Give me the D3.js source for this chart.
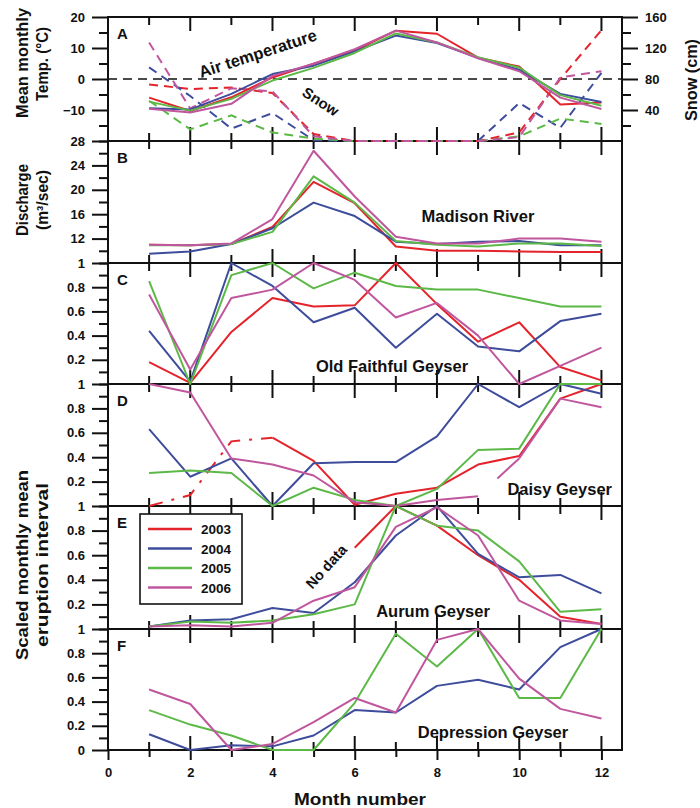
<!DOCTYPE html>
<html><head><meta charset="utf-8">
<script src="https://cdn.jsdelivr.net/npm/d3@7"></script>
<style>
body{margin:0;background:#fff}
svg{display:block}
text{font-family:"Liberation Sans",Arial,sans-serif;font-weight:bold;fill:#111}
</style>
</head><body>
<svg id="c" width="700" height="808"></svg>
<script>
// ---------- DATA ----------
const months = [1,2,3,4,5,6,7,8,9,10,11,12];
const years = ["2003","2004","2005","2006"];
const monthTickLabels = [0,2,4,6,8,10,12];

// Panel A: mean monthly air temperature (°C)
const temp2003 = [-6.0,-10.3,-5.9,0.5,4.9,9.2,15.6,14.6,6.9,4.0,-8.2,-7.6];
const temp2004 = [-9.4,-9.8,-4.8,1.6,4.3,8.9,14.0,11.6,6.8,3.0,-4.8,-7.4];
const temp2005 = [-7.3,-10.2,-6.4,-0.5,3.6,8.4,14.7,11.8,7.0,3.7,-5.2,-8.6];
const temp2006 = [-9.6,-10.8,-8.0,1.0,4.9,9.6,15.6,11.8,6.7,2.5,-6.0,-9.7];
// Panel A: snow (cm)
const snow2003 = [73,67,69,62,9,0,0,0,0,11,80,143];
const snow2004 = [95,58,16,36,1,0,0,0,0,49,17,88];
const snow2005 = [52,15,33,11,3,0,0,0,0,6,29,22];
const snow2006 = [127,42,68,64,6,0,0,0,0,5,82,90];
// Panel B: Madison River discharge (m3/sec)
const dis2003 = [11.0,10.9,11.1,13.9,21.3,17.8,10.7,10.0,10.0,9.9,9.8,9.8];
const dis2004 = [9.5,9.9,11.1,13.7,17.9,15.7,11.5,11.1,11.5,11.6,10.9,10.9];
const dis2005 = [10.9,10.9,11.1,13.1,22.2,17.9,11.6,11.0,10.7,11.2,11.2,10.8];
const dis2006 = [11.0,10.9,11.2,15.2,26.4,18.9,12.3,11.2,11.2,12.0,12.0,11.5];
// Panel C: Old Faithful
const of2003 = [0.18,0.01,0.43,0.71,0.64,0.65,1.0,0.66,0.35,0.51,0.14,0.03];
const of2004 = [0.44,0.02,1.0,0.81,0.51,0.63,0.30,0.58,0.31,0.27,0.52,0.58];
const of2005 = [0.85,0.0,0.90,1.0,0.79,0.92,0.81,0.78,0.78,0.71,0.64,0.64];
const of2006 = [0.74,0.12,0.71,0.78,1.0,0.86,0.55,0.67,0.40,0.0,0.15,0.30];
// Panel D: Daisy
const daisy2003 = [0.0,0.09,0.53,0.56,0.37,0.01,0.10,0.15,0.34,0.41,0.88,1.0];
const daisy2004 = [0.63,0.24,0.39,0.0,0.35,0.36,0.36,0.57,1.0,0.81,1.0,0.92];
const daisy2005 = [0.27,0.29,0.27,0.0,0.15,0.05,0.0,0.14,0.46,0.47,1.0,1.0];
const daisy2006 = [1.0,0.93,0.39,0.34,0.25,0.03,0.0,0.05,0.08,0.39,0.88,0.81];
// Panel E: Aurum
const aurum2003 = [null,null,null,null,null,0.66,1.0,0.84,0.60,0.40,0.10,0.04];
const aurum2004 = [0.02,0.07,0.08,0.17,0.13,0.38,0.76,1.0,0.61,0.42,0.44,0.29];
const aurum2005 = [0.02,0.06,0.05,0.07,0.12,0.20,1.0,0.84,0.80,0.55,0.14,0.16];
const aurum2006 = [0.02,0.03,0.02,0.05,0.23,0.34,0.83,0.99,0.76,0.23,0.07,0.04];
// Panel F: Depression
const dep2003 = [null,null,null,null,null,null,null,null,null,null,null,null];
const dep2004 = [0.13,0.0,0.04,0.03,0.12,0.33,0.31,0.53,0.58,0.50,0.85,1.0];
const dep2005 = [0.33,0.21,0.12,0.0,0.0,0.39,0.96,0.69,1.0,0.43,0.43,1.0];
const dep2006 = [0.50,0.38,0.0,0.05,0.23,0.43,0.31,0.91,1.0,0.59,0.34,0.26];

// tick labels
const tempTicks = [20,10,0,-10];
const snowTicks = [160,120,80,40];
const disTicks = [28,24,20,16,12];
const scaledTicks = [1,0.8,0.6,0.4,0.2];
const scaledTicksLast = [1,0.8,0.6,0.4,0.2,0];

// ---------- LAYOUT ----------
const svg = d3.select("#c");
const colors = {"2003":"#e4232b","2004":"#3e4c9c","2005":"#5cb947","2006":"#c0579e"};
const x = d3.scaleLinear().domain([0,12.5]).range([108,622]);
const bounds = [17,141,263,384,506,629,750];
const FONT = "Liberation Sans, Arial, sans-serif";

const panels = [
  {letter:"A", domain:[-20,20], major:tempTicks, minorStep:5, series:[temp2003,temp2004,temp2005,temp2006], fmt:d3.format("d")},
  {letter:"B", domain:[8,28], major:disTicks, minorStep:2, series:[dis2003,dis2004,dis2005,dis2006], fmt:d3.format("d")},
  {letter:"C", domain:[0,1], major:scaledTicks, minorStep:0.1, series:[of2003,of2004,of2005,of2006], fmt:d3.format("")},
  {letter:"D", domain:[0,1], major:scaledTicks, minorStep:0.1, series:[daisy2003,daisy2004,daisy2005,daisy2006], fmt:d3.format("")},
  {letter:"E", domain:[0,1], major:scaledTicks, minorStep:0.1, series:[aurum2003,aurum2004,aurum2005,aurum2006], fmt:d3.format("")},
  {letter:"F", domain:[0,1], major:scaledTicksLast, minorStep:0.1, series:[dep2003,dep2004,dep2005,dep2006], fmt:d3.format("")}
];

const gFrame = svg.append("g");
const gLines = svg.append("g");

function styleAxis(g){
  g.select(".domain").remove();
  g.selectAll("line").attr("stroke","#111").attr("stroke-width",2);
  g.selectAll("text").attr("font-size",13).attr("font-family",FONT).attr("font-weight","bold").attr("fill","#111");
}

panels.forEach((p,pi)=>{
  const top = bounds[pi], bot = bounds[pi+1];
  const y = d3.scaleLinear().domain(p.domain).range([bot, top]);
  p.y = y;
  const minor = d3.range(p.domain[0], p.domain[1]+1e-9, p.minorStep).map(v=>+v.toFixed(3))
     .filter(v=>!p.major.includes(v));
  styleAxis(gFrame.append("g").attr("transform","translate(108,0)")
    .call(d3.axisLeft(y).tickValues(minor).tickSize(9).tickFormat("")));
  styleAxis(gFrame.append("g").attr("transform","translate(108,0)")
    .call(d3.axisLeft(y).tickValues(p.major).tickSize(16).tickPadding(7).tickFormat(p.fmt)));
  months.forEach(m=>{
    const len = m%2===0 ? 14 : 8;
    gFrame.append("line").attr("x1",x(m)).attr("x2",x(m)).attr("y1",top).attr("y2",top+len).attr("stroke","#111").attr("stroke-width",2);
    gFrame.append("line").attr("x1",x(m)).attr("x2",x(m)).attr("y1",bot).attr("y2",bot-len).attr("stroke","#111").attr("stroke-width",2);
  });
  gFrame.append("text").attr("x",117).attr("y",top+22).attr("font-size",15).text(p.letter);
});

// frame
gFrame.append("rect").attr("x",x(0)).attr("y",bounds[0]).attr("width",x(12.5)-x(0)).attr("height",bounds[6]-bounds[0])
  .attr("fill","none").attr("stroke","#111").attr("stroke-width",2);
bounds.slice(1,6).forEach(b=>{
  gFrame.append("line").attr("x1",x(0)).attr("x2",x(12.5)).attr("y1",b).attr("y2",b).attr("stroke","#111").attr("stroke-width",2);
});

// right snow axis in panel A
const ySnow = d3.scaleLinear().domain([0,160]).range([bounds[1], bounds[0]]);
styleAxis(gFrame.append("g").attr("transform",`translate(${x(12.5)},0)`)
  .call(d3.axisRight(ySnow).tickValues([140,100,60,20]).tickSize(9).tickFormat("")));
styleAxis(gFrame.append("g").attr("transform",`translate(${x(12.5)},0)`)
  .call(d3.axisRight(ySnow).tickValues(snowTicks).tickSize(16).tickPadding(7)));

// bottom x axis
styleAxis(gFrame.append("g").attr("transform",`translate(0,${bounds[6]})`)
  .call(d3.axisBottom(x).tickValues(months.filter(m=>m%2===1)).tickSize(7).tickFormat("")));
styleAxis(gFrame.append("g").attr("transform",`translate(0,${bounds[6]})`)
  .call(d3.axisBottom(x).tickValues(monthTickLabels).tickSize(10).tickPadding(8).tickFormat(d3.format("d"))));

// zero line in A
const yT = panels[0].y;
gLines.append("line").attr("x1",x(0)).attr("x2",x(12.5)).attr("y1",yT(0)).attr("y2",yT(0))
  .attr("stroke","#111").attr("stroke-width",1.4).attr("stroke-dasharray","9,6");

// snow dashed lines
[snow2003,snow2004,snow2005,snow2006].forEach((s,i)=>{
  const line = d3.line().x((d,j)=>x(months[j])).y(d=>ySnow(d));
  gLines.append("path").attr("d",line(s)).attr("fill","none").attr("stroke",colors[years[i]])
    .attr("stroke-width",2).attr("stroke-dasharray","9,6");
});

// solid series lines
panels.forEach((p,pi)=>{
  p.series.forEach((s,i)=>{
    const col = colors[years[i]];
    let defined = (d,j)=>d!=null;
    if (p.letter==="D" && i===0) defined = (d,j)=>d!=null && j>=3;
    if (p.letter==="D" && i===3) defined = (d,j)=>d!=null && j!==8;
    const line = d3.line().defined(defined).x((d,j)=>x(months[j])).y(d=>p.y(d));
    gLines.append("path").attr("d",line(s)).attr("fill","none").attr("stroke",col)
      .attr("stroke-width",2).attr("stroke-linejoin","round");
    if (p.letter==="D" && i===0) {
      const l2 = d3.line().defined((d,j)=>j<=3).x((d,j)=>x(months[j])).y(d=>p.y(d));
      gLines.append("path").attr("d",l2(s)).attr("fill","none").attr("stroke",col)
        .attr("stroke-width",2).attr("stroke-dasharray","14,9,3,9");
    }
    if (p.letter==="D" && i===3) {
      // 2006 Daisy: segment 8->9 month has a gap in its first half
      const l3 = d3.line().x((d,j)=>x(months[j])).y(d=>p.y(d));
      const pre = s.slice(7,9);
      gLines.append("path").attr("d",l3(pre)).attr("transform",`translate(${x(months[7])-x(months[0])},0)`)
        .attr("fill","none").attr("stroke",col).attr("stroke-width",2);
      const segLen = Math.hypot(x(months[9])-x(months[8]), p.y(s[9])-p.y(s[8]));
      const seg = s.slice(8,10);
      gLines.append("path").attr("d",l3(seg)).attr("transform",`translate(${x(months[8])-x(months[0])},0)`)
        .attr("fill","none").attr("stroke",col).attr("stroke-width",2)
        .attr("stroke-dasharray",`0,${segLen*0.47},${segLen}`);
    }
  });
});

// annotations
const ann = svg.append("g");
ann.append("text").attr("transform","translate(201,78) rotate(-18)").attr("font-size",16.5).text("Air temperature");
ann.append("text").attr("transform","translate(301,95) rotate(33)").attr("font-size",15).text("Snow");
ann.append("text").attr("x",478).attr("y",222).attr("text-anchor","middle").attr("font-size",16.5).text("Madison River");
ann.append("text").attr("x",392).attr("y",372).attr("text-anchor","middle").attr("font-size",16.5).text("Old Faithful Geyser");
ann.append("text").attr("x",612).attr("y",495).attr("text-anchor","end").attr("font-size",16.5).text("Daisy Geyser");
ann.append("text").attr("x",433).attr("y",617).attr("text-anchor","middle").attr("font-size",16.5).text("Aurum Geyser");
ann.append("text").attr("x",493).attr("y",738).attr("text-anchor","middle").attr("font-size",16.5).text("Depression Geyser");
ann.append("text").attr("transform","translate(330,570) rotate(-48)").attr("text-anchor","middle")
  .attr("font-size",14.5).attr("font-weight","normal").text("No data");

// legend
const lg = svg.append("g");
lg.append("rect").attr("x",140).attr("y",514).attr("width",102).attr("height",90).attr("fill","#fff").attr("stroke","#111").attr("stroke-width",1.6);
years.forEach((yr,i)=>{
  const yy = 529 + i*19.5;
  lg.append("line").attr("x1",148).attr("x2",192).attr("y1",yy).attr("y2",yy).attr("stroke",colors[yr]).attr("stroke-width",2.5);
  lg.append("text").attr("x",201).attr("y",yy+5).attr("font-size",13.5).text(yr);
});

// axis titles
function vtext(cx, cy, str, len, size){
  svg.append("text").attr("transform",`translate(${cx},${cy}) rotate(-90)`).attr("text-anchor","middle")
    .attr("font-size",size).attr("textLength",len).attr("lengthAdjust","spacingAndGlyphs").text(str);
}
vtext(28, 63, "Mean monthly", 110, 16);
vtext(48, 64, "Temp. (°C)", 74, 16);
vtext(28, 200, "Discharge", 72, 16);
vtext(48, 200, "(m³/sec)", 60, 16);
vtext(28, 565, "Scaled monthly mean", 190, 16);
vtext(48, 565, "eruption interval", 164, 16);
vtext(697, 80, "Snow (cm)", 82, 16);
svg.append("text").attr("x",360).attr("y",805).attr("text-anchor","middle").attr("font-size",16)
  .attr("textLength",132).attr("lengthAdjust","spacingAndGlyphs").text("Month number");
</script>
</body></html>
